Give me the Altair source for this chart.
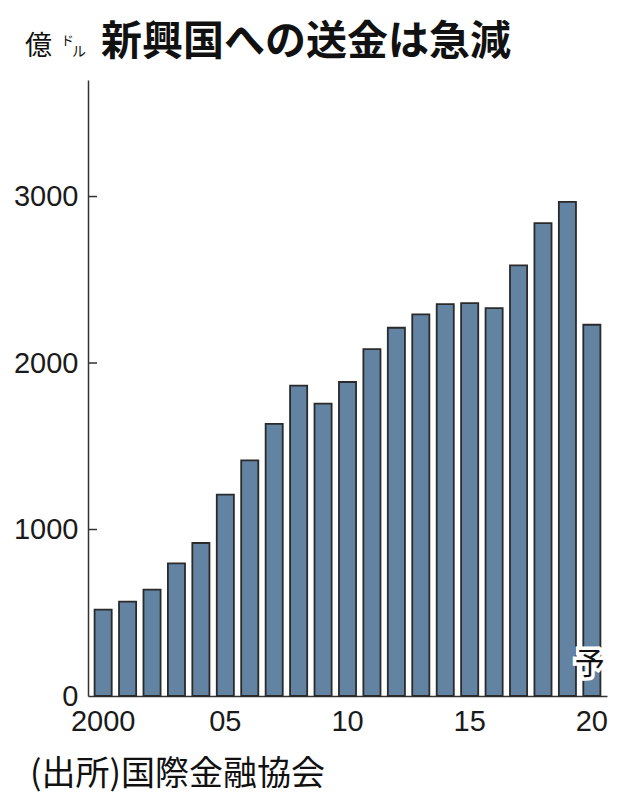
import altair as alt
import pandas as pd

years = ["2000", "2001", "2002", "2003", "2004", "2005", "2006", "2007", "2008", "2009",
         "2010", "2011", "2012", "2013", "2014", "2015", "2016", "2017", "2018", "2019", "2020"]
values = [519, 567, 639, 797, 919, 1209, 1415, 1634, 1864, 1756,
          1886, 2084, 2212, 2292, 2354, 2360, 2330, 2586, 2840, 2968, 2230]
tick_values = [0, 1000, 2000, 3000]
inner_ticks = [1000, 2000, 3000]

title_text = "新興国への送金は急減"
unit_main = "億"
unit_small_1 = "ド"
unit_small_2 = "ル"
source_text = "(出所)国際金融協会"
forecast_year = "2020"
forecast_label = "予"

NUM_FONT = "Liberation Sans"
CJK_FONT = "Noto Sans CJK JP"

df = pd.DataFrame({"year": years, "value": values})

x_enc = alt.X(
    "year:N",
    sort=years,
    scale=alt.Scale(paddingInner=0.3, paddingOuter=0.27),
    axis=alt.Axis(
        title=None, ticks=False, grid=False, labelAngle=0, labelOverlap=False,
        labelExpr="datum.value == '2000' ? '2000' : (toNumber(datum.value) % 5 == 0 ? substring(datum.value, 2, 4) : '')",
        labelFont=NUM_FONT, labelFontSize=29, labelColor="#1a1a1a", labelPadding=11,
        domainColor="#333333", domainWidth=1.5,
    ),
)
y_scale = alt.Scale(domain=[0, 3700], nice=False)

bars = alt.Chart(df).mark_bar(
    fill="#6383a3", stroke="#2a2a2a", strokeWidth=1.8
).encode(
    x=x_enc,
    y=alt.Y(
        "value:Q", scale=y_scale,
        axis=alt.Axis(
            title=None, values=tick_values, format="d", ticks=False, grid=False,
            labelFont=NUM_FONT, labelFontSize=29, labelColor="#1a1a1a", labelPadding=10,
            domainColor="#333333", domainWidth=1.5,
        ),
    ),
)

ticks = alt.Chart(pd.DataFrame({"v": inner_ticks})).mark_rule(
    color="#333333", strokeWidth=1.5
).encode(
    y=alt.Y("v:Q", scale=y_scale),
    x=alt.value(0),
    x2=alt.value(9),
)

fc = pd.DataFrame({"year": [forecast_year], "t": [forecast_label]})
fc_halo = alt.Chart(fc).mark_text(
    font=CJK_FONT, fontSize=30, stroke="white", strokeWidth=7, fill="white",
    baseline="middle", align="center", dx=-2,
).encode(x=alt.X("year:N", sort=years), y=alt.value(585), text="t:N")
fc_text = alt.Chart(fc).mark_text(
    font=CJK_FONT, fontSize=30, fill="#111111",
    baseline="middle", align="center", dx=-2,
).encode(x=alt.X("year:N", sort=years), y=alt.value(585), text="t:N")

def label(txt, x, y, size, weight="normal", align="left"):
    return alt.Chart(pd.DataFrame({"t": [txt]})).mark_text(
        font=CJK_FONT, fontSize=size, fontWeight=weight, color="#111111",
        align=align, baseline="middle",
    ).encode(x=alt.value(x), y=alt.value(y), text="t:N")

title = label(title_text, 13, -37, 41, weight="bold")
unit1 = label(unit_main, -63, -33, 27)
unit2 = label(unit_small_1, -27, -39, 13)
unit3 = label(unit_small_2, -16, -28, 14)
source = label(source_text, -58, 695, 34)

chart = alt.layer(
    bars, ticks, fc_halo, title, unit1, unit2, unit3, source, fc_text
).properties(
    width=519,
    height=616,
    background="white",
    padding={"left": 80, "top": 72, "right": 3, "bottom": 101},
    autosize=alt.AutoSizeParams(type="none"),
).configure_view(stroke=None)

chart.save("out.html", embed_options={"renderer": "svg", "actions": False})
